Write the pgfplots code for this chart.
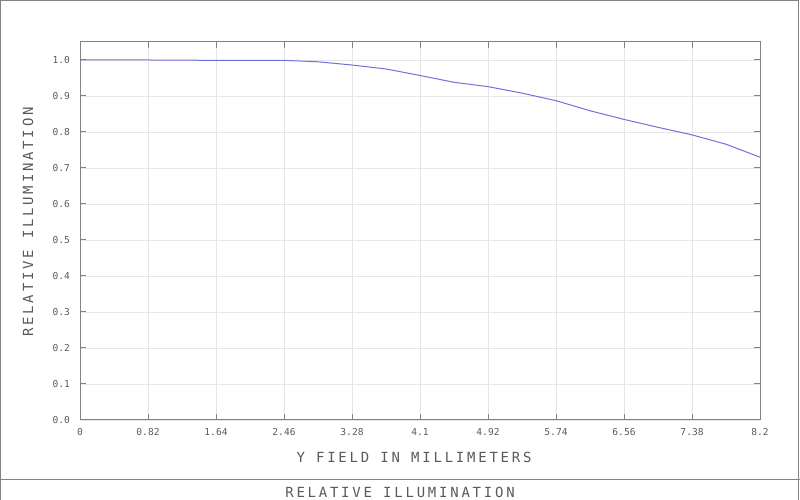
\documentclass[border=0pt]{standalone}
\usepackage{fontspec}
\setmonofont{DejaVu Sans Mono}
\usepackage{pgfplots}
\pgfplotsset{compat=1.18}
\definecolor{txt}{RGB}{90,90,90}
\definecolor{frm}{RGB}{130,130,130}
\definecolor{grd}{RGB}{230,230,230}
\definecolor{crv}{RGB}{112,112,222}
\newcommand\lab{\fontsize{14}{16}\selectfont\ttfamily\addfontfeature{LetterSpace=20}}
\begin{document}
\begin{tikzpicture}[x=1bp,y=1bp]
\useasboundingbox (0,0) rectangle (800,500);
\draw[frm, line width=1bp] (0.5,0) -- (0.5,499.5) -- (798.5,499.5) -- (798.5,0);
\draw[frm, line width=1bp] (0,20) -- (800,20);
\begin{axis}[
    at={(80bp,80bp)}, anchor=south west,
    scale only axis, width=680bp, height=378bp,
    xmin=0, xmax=8.2, ymin=0, ymax=1.05,
    xtick={0,0.82,1.64,2.46,3.28,4.1,4.92,5.74,6.56,7.38,8.2},
    xticklabels={0,0.82,1.64,2.46,3.28,4.1,4.92,5.74,6.56,7.38,8.2},
    ytick={0,0.1,0.2,0.3,0.4,0.5,0.6,0.7,0.8,0.9,1.0},
    yticklabels={0.0,0.1,0.2,0.3,0.4,0.5,0.6,0.7,0.8,0.9,1.0},
    tick label style={font=\fontsize{9.6}{11}\selectfont\ttfamily, text=txt},
    xticklabel style={inner sep=0pt, yshift=-8bp},
    yticklabel style={inner sep=0pt, xshift=-10bp},
    major tick length=6bp,
    every tick/.style={frm, line width=1bp},
    axis line style={frm, line width=1bp},
    grid=major,
    major grid style={grd, line width=0.8bp},
]
\addplot[crv, line width=1bp] coordinates {
(0,1.0) (0.82,1.0) (1.23,0.9995) (1.64,0.999) (2.46,0.999) (2.87,0.995)
(3.28,0.986) (3.69,0.975) (4.10,0.957) (4.51,0.938) (4.92,0.926)
(5.33,0.908) (5.74,0.887) (6.15,0.859) (6.56,0.835) (6.97,0.813)
(7.38,0.792) (7.79,0.766) (8.20,0.730)
};
\end{axis}
\node[txt, font=\lab] at (414,43) {Y FIELD IN MILLIMETERS};
\node[txt, font=\lab, rotate=90] at (28,278) {RELATIVE ILLUMINATION};
\node[txt, font=\lab] at (400,8) {RELATIVE ILLUMINATION};
\end{tikzpicture}
\end{document}
